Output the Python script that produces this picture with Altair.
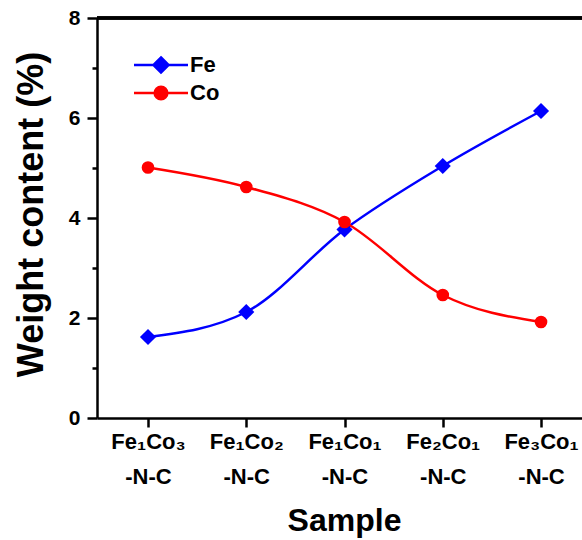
import altair as alt
import pandas as pd

# ---- data ----
samples = ["Fe₁Co₃", "Fe₁Co₂", "Fe₁Co₁", "Fe₂Co₁", "Fe₃Co₁"]
suffix = "-N-C"
fe = [1.62, 2.12, 3.77, 5.04, 6.14]
co = [5.01, 4.62, 3.92, 2.46, 1.92]
series = ["Fe", "Co"]
colors = ["#0000ff", "#ff0000"]
y_domain = [0, 8]
y_ticks = [0, 1, 2, 3, 4, 5, 6, 7, 8]
x_ticks = [0, 1, 2, 3, 4]

rows = []
for i, s in enumerate(samples):
    rows.append({"idx": i, "sample": s, "series": "Fe", "value": fe[i]})
    rows.append({"idx": i, "sample": s, "series": "Co", "value": co[i]})
df = pd.DataFrame(rows)

FONT = "Liberation Sans"
label_expr = "[" + ",".join(f"['{s}','{suffix}']" for s in samples) + "][datum.value]"

x_enc = alt.X(
    "idx:Q",
    scale=alt.Scale(domain=[-0.519, 4.417], nice=False, zero=False),
    axis=alt.Axis(
        values=x_ticks, labelExpr=label_expr, labelFontSize=22, labelLineHeight=35,
        labelBaseline="top", labelPadding=4, tickSize=9, labelOverlap=False,
        title="Sample", titleFontSize=32, titleX=247, titleY=112,
        titleBaseline="alphabetic", titleAlign="center",
    ),
)
y_enc = alt.Y(
    "value:Q",
    scale=alt.Scale(domain=y_domain, nice=False, zero=False),
    axis=alt.Axis(
        values=y_ticks,
        tickSize={"condition": {"test": "datum.value % 2 === 0", "value": 10}, "value": 5},
        labelExpr="datum.value % 2 === 0 ? datum.label : ''",
        labelFontSize=21, labelPadding=7,
        title="Weight content (%)", titleFontSize=36, titleX=-66, titleY=196,
        titleBaseline="middle", titleAlign="center", titleAngle=270,
    ),
)

layers = []
shapes = {"Fe": ("diamond", 260), "Co": ("circle", 160)}
for s, c in zip(series, colors):
    base = alt.Chart(df).transform_filter(f"datum.series === '{s}'")
    layers.append(base.mark_line(color=c, strokeWidth=2.5, interpolate="monotone").encode(x=x_enc, y=y_enc))
for s, c in zip(series, colors):
    base = alt.Chart(df).transform_filter(f"datum.series === '{s}'")
    shp, size = shapes[s]
    layers.append(base.mark_point(shape=shp, size=size, filled=True, color=c, opacity=1).encode(x=x_enc, y=y_enc))

# top frame line
layers.append(alt.Chart(df).mark_rule(color="black", strokeWidth=2.5).encode(y=alt.datum(y_domain[1])))

# legend layer (no visible marks)
legend_paths = [
    "M-2,0H2M0,-0.56L0.56,0L0,0.56L-0.56,0Z",
    "M-2,0H2M0.47,0A0.47,0.47 0 1,1 -0.47,0A0.47,0.47 0 1,1 0.47,0Z",
]
leg = alt.Legend(
    title=None, orient="none", legendX=49, legendY=32, labelFontSize=22,
    labelFont=FONT, labelFontWeight="bold", labelColor="black",
    symbolSize=729, symbolStrokeWidth=2.5, rowPadding=-2, labelOffset=14, padding=0,
)
layers.append(
    alt.Chart(df).transform_filter("false").mark_point(filled=True, opacity=1, strokeWidth=2.5).encode(
        fill=alt.Fill("series:N", scale=alt.Scale(domain=series, range=colors), legend=leg),
        stroke=alt.Stroke("series:N", scale=alt.Scale(domain=series, range=colors), legend=leg),
        shape=alt.Shape("series:N", scale=alt.Scale(domain=series, range=legend_paths), legend=leg),
    )
)

chart = alt.layer(*layers).properties(
    width=485, height=400,
    autosize=alt.AutoSizeParams(type="none"),
    padding={"left": 97, "top": 18, "right": 0, "bottom": 122},
    background="white",
).configure_view(stroke=None).configure_axis(
    grid=False, domainColor="black", domainWidth=2.5, tickColor="black", tickWidth=2.5,
    labelFont=FONT, labelFontWeight="bold", labelColor="black",
    titleFont=FONT, titleFontWeight="bold", titleColor="black",
)

chart.save("out.html", embed_options={"renderer": "svg", "actions": False})
